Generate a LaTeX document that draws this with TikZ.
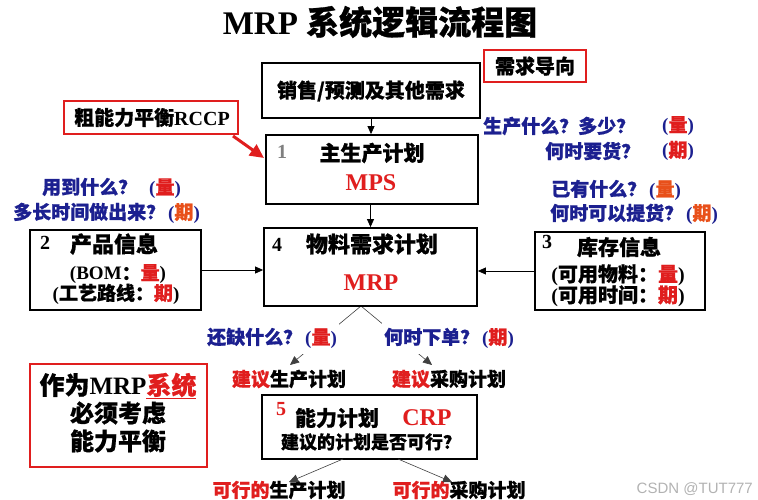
\documentclass[tikz,border=0pt]{standalone}
\usepackage{fontspec}
\setmainfont{Liberation Serif}
\newfontfamily\zh{Noto Sans CJK SC}[BoldFeatures={FakeBold=0.8}]
\newfontfamily\lsans{Liberation Sans}
\usetikzlibrary{arrows.meta,backgrounds,calc}
\definecolor{navy}{HTML}{1C2090}
\definecolor{rd}{HTML}{E01E1E}
\definecolor{org}{HTML}{E8501A}
\newcommand{\Z}[1]{{\zh\bfseries #1}}
\newcommand{\E}[1]{{\rmfamily\bfseries #1}}
\newcommand{\fs}[1]{\fontsize{#1}{#1}\selectfont}
\begin{document}
\begin{tikzpicture}[x=1pt,y=-1pt,
  box/.style={draw=black,line width=1.8pt,fill=white,inner sep=0pt},
  redbox/.style={draw=rd,line width=2.4pt,fill=white,inner sep=0pt},
  txt/.style={inner sep=0pt,font=\fs{#1}},
  txt/.default=19,
  lbl/.style={inner sep=0pt,font=\fs{19},fill=white,inner ysep=6pt,inner xsep=2pt},
  arr/.style={-{Triangle[length=8pt,width=7pt]},line width=0.8pt},
  thinarr/.style={-{Triangle[length=9pt,width=8pt]},line width=0.6pt,draw=black!75}]
\useasboundingbox (0,0) rectangle (758,500);

% title
\node[txt=33] (title) at (380,22) {\E{MRP} \Z{系统逻辑流程图}};

% boxes
\node[box,minimum width=218pt,minimum height=55pt] (dem) at (371,90.5) {};
\node[txt=20] (demt) at (371,91) {\Z{销售/预测及其他需求}};
\node[redbox,minimum width=102pt,minimum height=32pt] (dir) at (535,66) {};
\node[txt=20] (dirt) at (535,66) {\Z{需求导向}};
\node[redbox,minimum width=174pt,minimum height=33pt] (rccp) at (151,117.5) {};
\node[txt=20] (rccpt) at (152,117.5) {\Z{粗能力平衡}\E{RCCP}};

\node[box,minimum width=212pt,minimum height=69pt] (mps) at (372,169.5) {};
\node[txt=20,text=black!50] (mpsn) at (282,152) {\E{1}};
\node[txt=21] (mpst) at (372,153) {\Z{主生产计划}};
\node[txt=24,text=rd] (mpsl) at (371,183) {\E{MPS}};

\node[box,minimum width=213pt,minimum height=78pt] (mrp) at (370.5,267) {};
\node[txt=20] (mrpn) at (277,245) {\E{4}};
\node[txt=22] (mrpt) at (372,244) {\Z{物料需求计划}};
\node[txt=24,text=rd] (mrpl) at (371,283) {\E{MRP}};

\node[box,minimum width=171pt,minimum height=80pt] (prod) at (115.5,270) {};
\node[txt=20] (prodn) at (45,243) {\E{2}};
\node[txt=22] (prodt) at (114,244) {\Z{产品信息}};
\node[txt=19] (prod1) at (118,274) {\E{(BOM}\Z{：{\color{rd}量}}\E{)}};
\node[txt=19] (prod2) at (116,294) {\E{(}\Z{工艺路线：{\color{rd}期}}\E{)}};

\node[box,minimum width=170pt,minimum height=78pt] (stock) at (620,271) {};
\node[txt=20] (stockn) at (547,242) {\E{3}};
\node[txt=21] (stockt) at (619,247) {\Z{库存信息}};
\node[txt=20] (stock1) at (618,275) {\E{(}\Z{可用物料：{\color{rd}量}}\E{)}};
\node[txt=20] (stock2) at (618,296) {\E{(}\Z{可用时间：{\color{rd}期}}\E{)}};

\node[box,minimum width=215pt,minimum height=64pt] (crp) at (369.5,427) {};
\node[txt=20,text=rd] (crpn) at (281,409) {\E{5}};
\node[txt=21] (crpt) at (337,418) {\Z{能力计划}};
\node[txt=24,text=rd] (crpl) at (427,418) {\E{CRP}};
\node[txt=18] (crpq) at (371,442) {\Z{建议的计划是否可行？}};

\node[redbox,minimum width=177pt,minimum height=103pt] (note) at (118.5,415.5) {};
\node[txt=25] (note1) at (118,386) {\Z{作为}\E{MRP}{\color{rd}\underline{\Z{系统}}}};
\node[txt=24] (note2) at (118,413) {\Z{必须考虑}};
\node[txt=24] (note3) at (118,441) {\Z{能力平衡}};

% blue questions
\node[txt,anchor=west,text=navy] (q1) at (483,126) {\Z{生产什么？多少？}};
\node[txt,anchor=west,text=navy] (q1b) at (662,126) {\E{(}\Z{\color{rd}量}\E{)}};
\node[txt,anchor=west,text=navy] (q2) at (545,151) {\Z{何时要货？}};
\node[txt,anchor=west,text=navy] (q2b) at (662,151) {\E{(}\Z{\color{rd}期}\E{)}};

\node[txt,anchor=west,text=navy] (q3) at (42,188) {\Z{用到什么？}\hspace{12pt}\E{(}\Z{\color{rd}量}\E{)}};
\node[txt,anchor=west,text=navy] (q4) at (13,213) {\Z{多长时间做出来？}\hspace{3pt}\E{(}\Z{\color{org}期}\E{)}};
\node[txt,anchor=west,text=navy] (q5) at (551,190) {\Z{已有什么？}\hspace{3pt}\E{(}\Z{\color{org}量}\E{)}};
\node[txt,anchor=west,text=navy] (q6) at (550,214) {\Z{何时可以提货？}\hspace{3pt}\E{(}\Z{\color{org}期}\E{)}};

% lower labels
\node[lbl,anchor=west,text=navy] (short) at (205,338) {\Z{还缺什么？}\hspace{3pt}\E{(}\Z{\color{rd}量}\E{)}};
\node[lbl,anchor=west,text=navy] (when) at (382,338) {\Z{何时下单？}\hspace{3pt}\E{(}\Z{\color{rd}期}\E{)}};
\node[txt] (sugP) at (289,379) {\Z{{\color{rd}建议}生产计划}};
\node[txt] (sugB) at (449,379) {\Z{{\color{rd}建议}采购计划}};
\node[txt] (okP) at (279,490) {\Z{{\color{rd}可行的}生产计划}};
\node[txt] (okB) at (459,490) {\Z{{\color{rd}可行的}采购计划}};

\node[txt=15,anchor=east,text=black!30] (csdn) at (753,489) {\lsans CSDN @TUT777};

% connectors
\draw[arr] (dem.south) -- (mps.north -| dem.south);
\draw[arr] (mps.south -| mrp.north) -- (mrp.north);
\draw[arr] (prod.east) -- (prod.east -| mrp.west);
\draw[arr] (stock.west) -- (stock.west -| mrp.east);

\coordinate (rstart) at (233,136);
\coordinate (rtip) at (264,158);
\draw[rd,line width=3pt,-{Triangle[length=14pt,width=13pt]}] (rstart) -- (rtip);

\coordinate (apex) at (361,306);
\coordinate (tipL) at (290,365);
\coordinate (tipR) at (432,365);
\begin{pgfonlayer}{background}
\draw[thinarr] (apex) -- (tipL);
\draw[thinarr] (apex) -- (tipR);
\end{pgfonlayer}

\coordinate (cL) at (343,459);
\coordinate (cR) at (398,459);
\coordinate (tL) at (289,482);
\coordinate (tR) at (452,482);
\draw[thinarr] (cL) -- (tL);
\draw[thinarr] (cR) -- (tR);
\end{tikzpicture}
\end{document}
